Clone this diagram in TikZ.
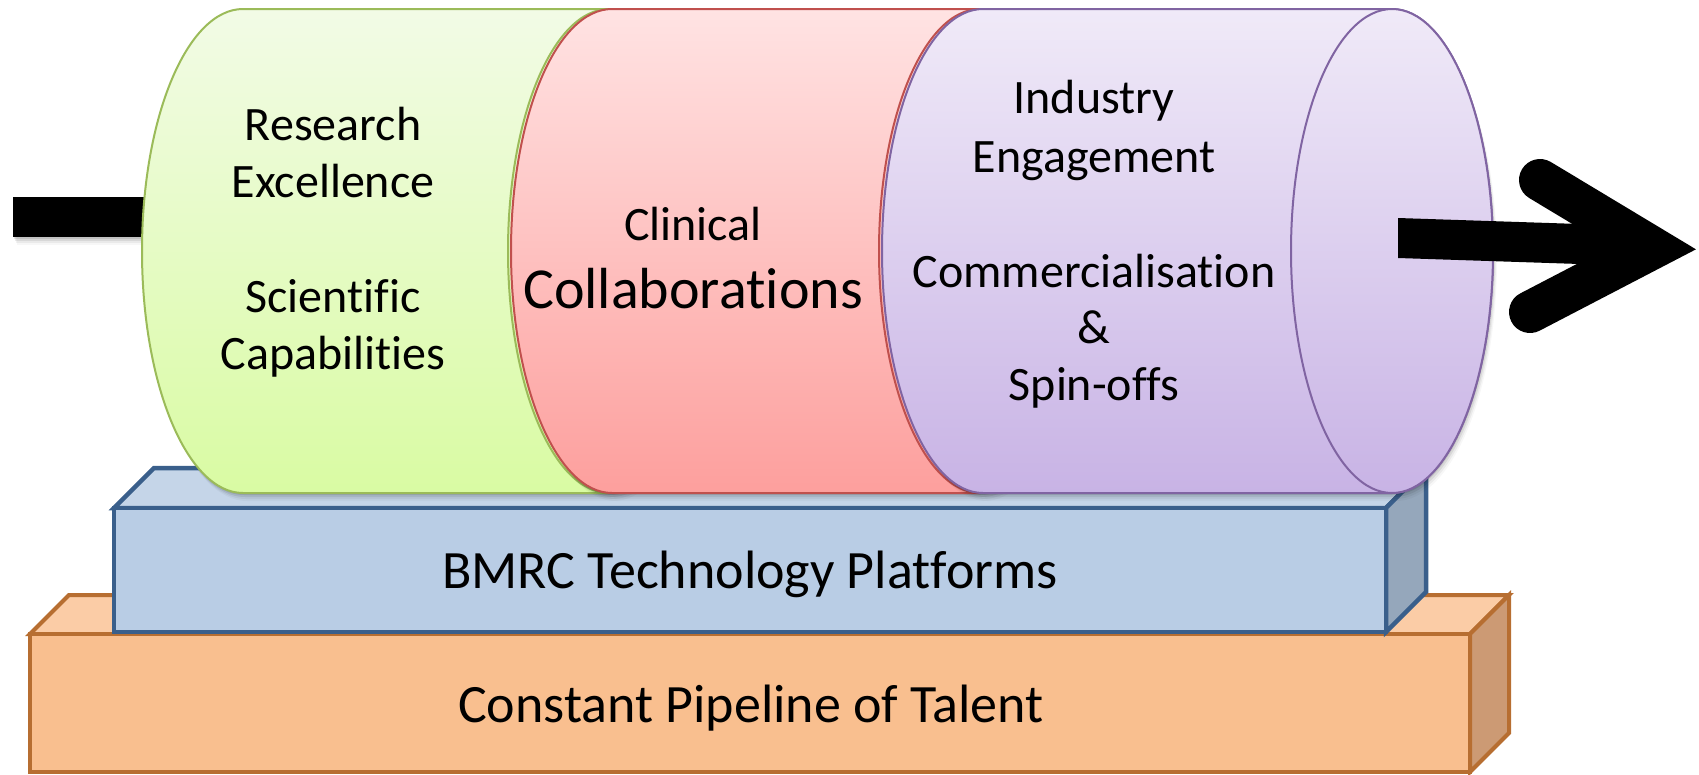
\documentclass[tikz,border=0pt]{standalone}
\usepackage{fontspec}
\setmainfont[Ligatures=NoCommon]{Carlito}
\definecolor{grnT}{HTML}{F2FBE6}
\definecolor{grnB}{HTML}{D9FBA3}
\definecolor{grnL}{HTML}{9BBB59}
\definecolor{redT}{HTML}{FFE3E3}
\definecolor{redB}{HTML}{FD9F9D}
\definecolor{redL}{HTML}{C0504D}
\definecolor{purT}{HTML}{F0EAF8}
\definecolor{purB}{HTML}{C8B3E5}
\definecolor{purL}{HTML}{8064A2}
\definecolor{bluF}{HTML}{B9CDE5}
\definecolor{bluT}{HTML}{C5D5E8}
\definecolor{bluS}{HTML}{95A7BB}
\definecolor{bluL}{HTML}{3A5F8B}
\definecolor{orF}{HTML}{F9BF8F}
\definecolor{orT}{HTML}{FBCCA6}
\definecolor{orS}{HTML}{CC9A74}
\definecolor{orL}{HTML}{B76E31}
\newcommand\cylsil[2]{(#1,9) arc[start angle=270,end angle=90,x radius=101,y radius=242] -- (#2,493) arc[start angle=90,end angle=-90,x radius=101,y radius=242] -- cycle}
\tikzset{
  lbl/.style={font=\fontsize{48}{57}\selectfont, anchor=base, inner sep=0pt, text=black},
  biglbl/.style={font=\fontsize{58}{67}\selectfont, anchor=base, inner sep=0pt, text=black},
  boxlbl/.style={font=\fontsize{54}{63}\selectfont, anchor=base, inner sep=0pt, text=black},
  bluebox/.style={draw=bluL, line width=4.5pt, line join=miter},
  orbox/.style={draw=orL, line width=4pt, line join=miter},
  cylshadow/.style={fill=black, opacity=#1},
}
\begin{document}
\begin{tikzpicture}[x=1pt,y=-1pt]
\useasboundingbox (0,0) rectangle (1699,774);
% orange box
\path[orbox, fill=orT] (30,634) -- (69,595) -- (1509,595) -- (1470,634) -- cycle;
\path[orbox, fill=orS] (1470,634) -- (1509,595) -- (1509,733) -- (1470,772) -- cycle;
\path[orbox, fill=orF] (30,634) rectangle (1470,772);
% blue box
\path[bluebox, fill=bluT] (114,508) -- (154,468) -- (1426,468) -- (1386,508) -- cycle;
\path[bluebox, fill=bluS] (1386,508) -- (1426,468) -- (1426,592) -- (1386,632) -- cycle;
\path[bluebox, fill=bluF] (114,508) rectangle (1386,632);
% left bar with shadow
\foreach \s/\o in {2/0.10,4/0.08,6/0.05,8/0.03}{
  \fill[cylshadow=\o, shift={(\s*0.5,\s)}] (13,197) rectangle (170,237);
}
\fill[black] (13,197) rectangle (170,237);
% green cylinder
\foreach \s/\o in {2/0.10,4/0.08,6/0.05,8/0.03}{
  \fill[cylshadow=\o, shift={(\s*0.5,\s)}] \cylsil{243}{609};
}
\path[draw=grnL, line width=2pt, top color=grnT, bottom color=grnB] \cylsil{243}{609};
\path[draw=grnL, line width=2pt, top color=grnT, bottom color=grnB] (609,251) ellipse [x radius=101, y radius=242];
% red cylinder
\foreach \s/\o in {2/0.10,4/0.08,6/0.05,8/0.03}{
  \fill[cylshadow=\o, shift={(\s*0.5,\s)}] \cylsil{612}{980};
}
\path[draw=redL, line width=2pt, top color=redT, bottom color=redB] \cylsil{612}{980};
\path[draw=redL, line width=2pt, top color=redT, bottom color=redB] (980,251) ellipse [x radius=101, y radius=242];
% purple cylinder
\foreach \s/\o in {2/0.10,4/0.08,6/0.05,8/0.03}{
  \fill[cylshadow=\o, shift={(\s*0.5,\s)}] \cylsil{983}{1392};
}
\path[draw=purL, line width=2pt, top color=purT, bottom color=purB] \cylsil{983}{1392};
\path[draw=purL, line width=2pt, top color=purT, bottom color=purB] (1392,251) ellipse [x radius=101, y radius=242];
% right arrow
\coordinate (sh1) at (1398,218);
\coordinate (sh2) at (1640,226);
\coordinate (sh3) at (1640,266);
\coordinate (sh4) at (1398,258);
\coordinate (armU) at (1540,180);
\coordinate (tipC) at (1653,248);
\coordinate (armL) at (1530,312);
\fill[black] (sh1) -- (sh2) -- (sh3) -- (sh4) -- cycle;
\draw[black, line width=42pt, line cap=round, line join=miter] (armU) -- (tipC) -- (armL);
% texts
\node[lbl] (g1) at (333,140) {Research};
\node[lbl] (g2) at (333,197) {Excellence};
\node[lbl] (g3) at (333,312) {Scientific};
\node[lbl] (g4) at (333,369) {Capabilities};
\node[lbl] (r1) at (693,240) {Clinical};
\node[biglbl] (r2) at (693,308) {Collaborations};
\node[lbl] (p1) at (1094,113) {Industry};
\node[lbl] (p2) at (1094,172) {Engagement};
\node[lbl] (p3) at (1094,287) {Commercialisation};
\node[lbl] (p4) at (1094,343) {\&};
\node[lbl] (p5) at (1094,400) {Spin-offs};
\node[boxlbl] (b1) at (750,588) {BMRC Technology Platforms};
\node[boxlbl] (o1) at (751,722) {Constant Pipeline of Talent};
\end{tikzpicture}
\end{document}
